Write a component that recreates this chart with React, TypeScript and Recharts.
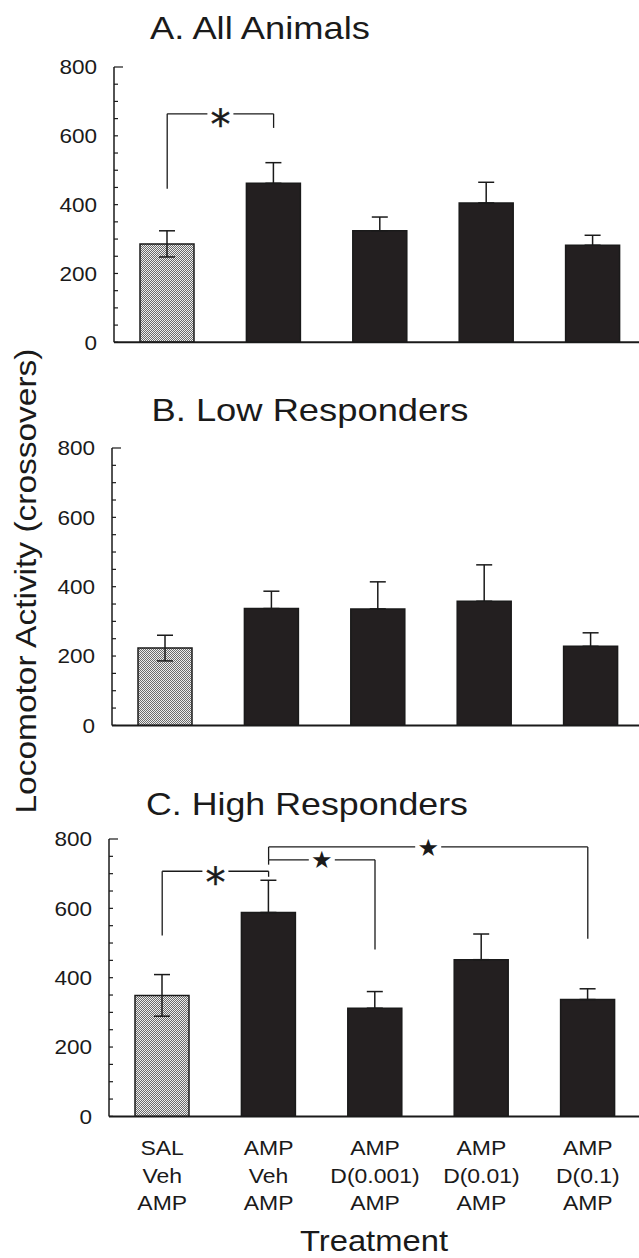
import React from 'react';
import { BarChart, Bar, XAxis, YAxis, Cell, ErrorBar, ReferenceLine } from 'recharts';

// ---------- data ----------
const categories = ['SAL Veh AMP', 'AMP Veh AMP', 'AMP D(0.001) AMP', 'AMP D(0.01) AMP', 'AMP D(0.1) AMP'];
const labelLine1 = ['SAL', 'AMP', 'AMP', 'AMP', 'AMP'];
const labelLine2 = ['Veh', 'Veh', 'D(0.001)', 'D(0.01)', 'D(0.1)'];
const labelLine3 = ['AMP', 'AMP', 'AMP', 'AMP', 'AMP'];

const allMeans = [286, 462, 324, 405, 282];
const allErrors = [38, 60, 40, 60, 29];
const lowMeans = [223, 337, 336, 358, 228];
const lowErrors = [37, 50, 78, 105, 39];
const highMeans = [349, 588, 312, 452, 337];
const highErrors = [60, 93, 48, 74, 31];

const yTicks = [0, 50, 100, 150, 200, 250, 300, 350, 400, 450, 500, 550, 600, 650, 700, 750, 800];
const yLabelTicks = [0, 200, 400, 600, 800];

const panelTitles = ['A. All Animals', 'B. Low Responders', 'C. High Responders'];
const yAxisTitle = 'Locomotor Activity (crossovers)';
const xAxisTitle = 'Treatment';

type Bracket = { from: number; to: number; y: number; fromEnd: number; toEnd: number; symbol: string };
const allBrackets: Bracket[] = [{ from: 0, to: 1, y: 664, fromEnd: 446, toEnd: 623, symbol: '*' }];
const highBrackets: Bracket[] = [
  { from: 0, to: 1, y: 707, fromEnd: 522, toEnd: 691, symbol: '*' },
  { from: 1, to: 2, y: 740, fromEnd: 726, toEnd: 481, symbol: '★' },
  { from: 1, to: 4, y: 777, fromEnd: 740, toEnd: 512, symbol: '★' },
];

const FONT = '"Liberation Sans", Arial, Helvetica, sans-serif';
const INK = '#1a1a1a';
const BAR_DARK = '#231f20';

// the grey (control) bar shows both halves of its error bar; the dark bars only the upper half
const makeData = (means: number[], errs: number[]) =>
  categories.map((name, i) => ({ name, mean: means[i], err: [i === 0 ? errs[i] : 0, errs[i]] }));

const renderValTick = (props: any, axisX: number) => {
  const { x, y, payload } = props;
  const v = payload.value;
  const len = v === 800 ? 9 : 4;
  const showText = yLabelTicks.includes(v);
  return (
    <g>
      <line x1={axisX} x2={axisX + len} y1={y} y2={y} stroke={INK} strokeWidth={1.2} />
      {showText && (
        <text
          transform={`translate(${x},${y}) scale(1.1,1)`}
          textAnchor="end"
          dy="0.36em"
          fontSize={20.5}
          fontFamily={FONT}
          fill={INK}
        >
          {v}
        </text>
      )}
    </g>
  );
};

const renderCatTick = (props: any) => {
  const { x, y, payload } = props;
  const i = payload.index;
  const lines = [labelLine1[i], labelLine2[i], labelLine3[i]];
  const offs = [39, 66.5, 94];
  return (
    <g>
      {lines.map((t, k) => (
        <text
          key={k}
          transform={`translate(${x},${y + offs[k]}) scale(1.12,1)`}
          textAnchor="middle"
          fontSize={20.5}
          fontFamily={FONT}
          fill={INK}
        >
          {t}
        </text>
      ))}
    </g>
  );
};

const renderSig = (props: any, symbol: string) => {
  const vb = props.viewBox || {};
  const cx = vb.x + (vb.width || 0) / 2;
  const cy = vb.y + (vb.height || 0) / 2;
  const isStar = symbol === '★';
  return (
    <g>
      <rect x={cx - 13} y={cy - 4} width={26} height={8} fill="#fff" />
      {isStar ? (
        <text x={cx} y={cy} dy="0.36em" textAnchor="middle" fontSize={24} fontFamily="DejaVu Sans" fill={INK}>
          {symbol}
        </text>
      ) : (
        <text
          x={cx}
          y={cy}
          dy="0.64em"
          textAnchor="middle"
          fontSize={40}
          fontFamily="DejaVu Sans"
          fill={INK}
          stroke={INK}
          strokeWidth={0.4}
        >
          {symbol}
        </text>
      )}
    </g>
  );
};

type PanelProps = {
  id: string;
  data: { name: string; mean: number; err: number[] }[];
  axisX: number;
  y800: number;
  y0: number;
  showLabels: boolean;
  brackets: Bracket[];
};

const PLOT_W = 532;
const TOP_PAD = 20;

function Panel({ id, data, axisX, y800, y0, showLabels, brackets }: PanelProps) {
  const plotH = y0 - y800;
  const xh = showLabels ? 110 : 16;
  const yw = 60;
  const pid = `stipple-${id}`;
  return (
    <div style={{ position: 'absolute', left: 0, top: y800 - TOP_PAD }}>
      <BarChart
        width={axisX + PLOT_W}
        height={TOP_PAD + plotH + xh}
        data={data}
        margin={{ top: TOP_PAD, right: 0, left: axisX - yw, bottom: 0 }}
        barCategoryGap={0}
      >
        <defs>
          <pattern id={pid} width={2} height={2} patternUnits="userSpaceOnUse">
            <rect width={2} height={2} fill="#efefef" />
            <rect x={0} y={0} width={1} height={1} fill="#6a6a6a" />
            <rect x={1} y={1} width={1} height={1} fill="#6a6a6a" />
          </pattern>
        </defs>
        <XAxis
          dataKey="name"
          height={xh}
          interval={0}
          tickLine={false}
          tickSize={0}
          tickMargin={0}
          axisLine={{ stroke: INK, strokeWidth: 2 }}
          tick={showLabels ? renderCatTick : false}
        />
        <YAxis
          type="number"
          domain={[0, 800]}
          ticks={yTicks}
          interval={0}
          width={yw}
          tickSize={0}
          tickMargin={17}
          tickLine={false}
          axisLine={{ stroke: INK, strokeWidth: 1.5 }}
          tick={(p: any) => renderValTick(p, axisX)}
          allowDataOverflow
        />
        <Bar dataKey="mean" barSize={54} isAnimationActive={false} stroke={INK} strokeWidth={1.5}>
          {data.map((d, i) => (
            <Cell key={d.name} fill={i === 0 ? `url(#${pid})` : BAR_DARK} />
          ))}
          <ErrorBar dataKey="err" width={8} stroke={INK} strokeWidth={1.5} direction="y" isAnimationActive={false} />
        </Bar>
        {brackets.map((b, k) => [
          <ReferenceLine
            key={`v1-${k}`}
            ifOverflow="visible"
            stroke={INK}
            strokeWidth={1.3}
            segment={[
              { x: categories[b.from], y: b.fromEnd },
              { x: categories[b.from], y: b.y },
            ]}
          />,
          <ReferenceLine
            key={`h-${k}`}
            ifOverflow="visible"
            stroke={INK}
            strokeWidth={1.3}
            segment={[
              { x: categories[b.from], y: b.y },
              { x: categories[b.to], y: b.y },
            ]}
            label={(p: any) => renderSig(p, b.symbol)}
          />,
          <ReferenceLine
            key={`v2-${k}`}
            ifOverflow="visible"
            stroke={INK}
            strokeWidth={1.3}
            segment={[
              { x: categories[b.to], y: b.y },
              { x: categories[b.to], y: b.toEnd },
            ]}
          />,
        ])}
      </BarChart>
    </div>
  );
}

export default function App() {
  return (
    <div
      style={{
        position: 'absolute',
        left: 0,
        top: 0,
        width: 639,
        height: 1258,
        overflow: 'hidden',
        background: '#fff',
      }}
    >
      <Panel id="a" data={makeData(allMeans, allErrors)} axisX={114} y800={67} y0={342.3} showLabels={false} brackets={allBrackets} />
      <Panel id="b" data={makeData(lowMeans, lowErrors)} axisX={112} y800={448.3} y0={725.7} showLabels={false} brackets={[]} />
      <Panel id="c" data={makeData(highMeans, highErrors)} axisX={109} y800={839.3} y0={1116.7} showLabels={true} brackets={highBrackets} />
      <svg width={639} height={1258} style={{ position: 'absolute', left: 0, top: 0, pointerEvents: 'none' }}>
        <g fontFamily={FONT} fill={INK}>
          <text x={150} y={39} fontSize={32} textLength={220} lengthAdjust="spacingAndGlyphs">
            {panelTitles[0]}
          </text>
          <text x={151.5} y={421} fontSize={31.5} textLength={317} lengthAdjust="spacingAndGlyphs">
            {panelTitles[1]}
          </text>
          <text x={146} y={815} fontSize={31.5} textLength={322} lengthAdjust="spacingAndGlyphs">
            {panelTitles[2]}
          </text>
          <text
            transform="translate(36,581) rotate(-90)"
            textAnchor="middle"
            fontSize={29}
            textLength={465}
            lengthAdjust="spacingAndGlyphs"
          >
            {yAxisTitle}
          </text>
          <text x={374} y={1251} textAnchor="middle" fontSize={30} textLength={148} lengthAdjust="spacingAndGlyphs">
            {xAxisTitle}
          </text>
        </g>
      </svg>
    </div>
  );
}
